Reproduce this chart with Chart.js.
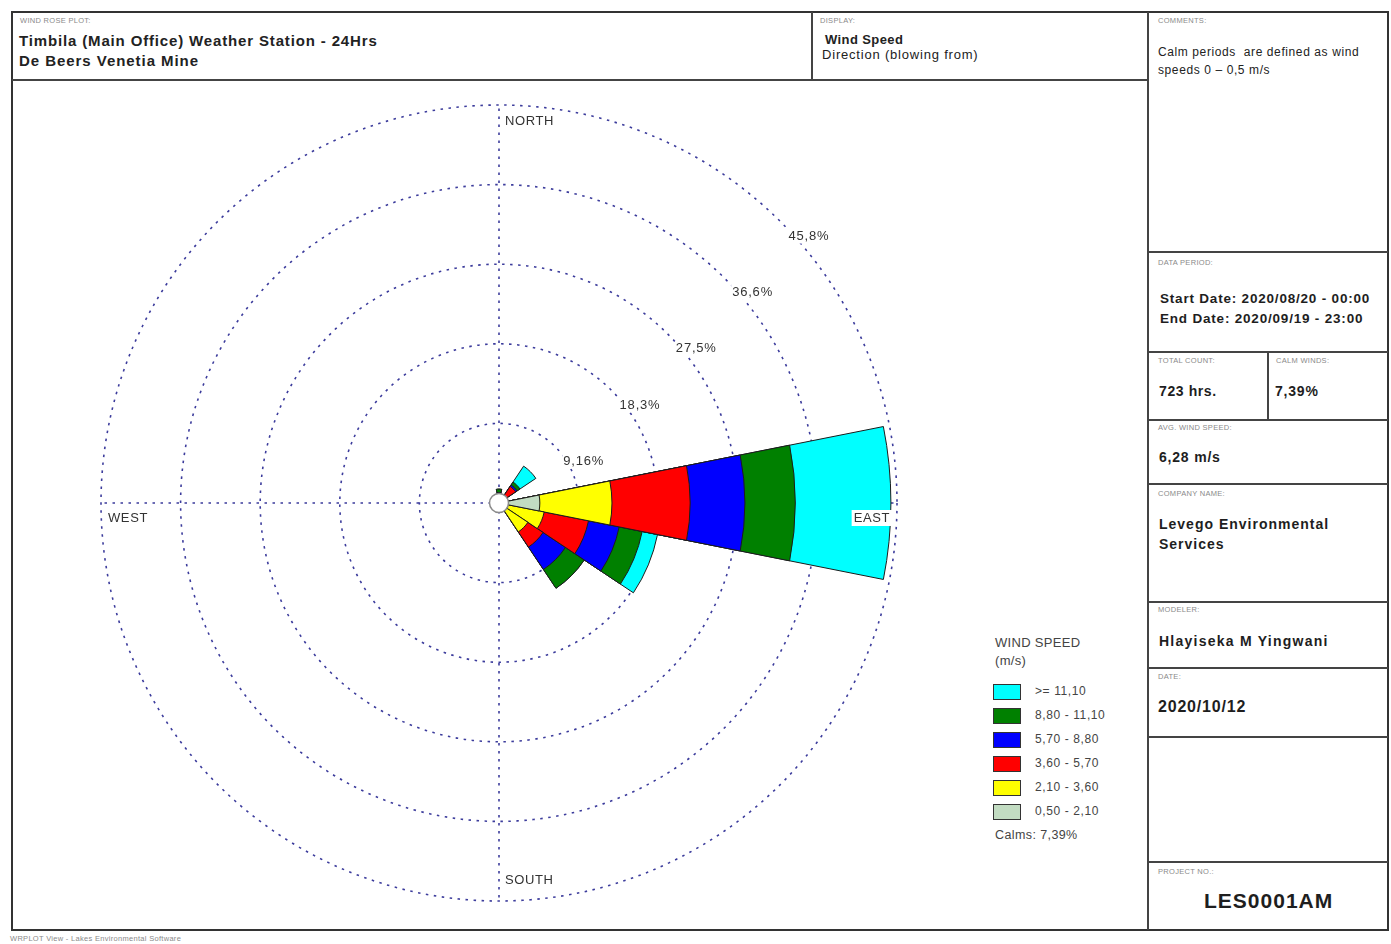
<!DOCTYPE html>
<html>
<head>
<meta charset="utf-8">
<script src="https://cdn.jsdelivr.net/npm/chart.js@4/dist/chart.umd.min.js"></script>
<style>
  html, body { margin: 0; padding: 0; background: #fff; }
  body { width: 1391px; height: 944px; position: relative; overflow: hidden;
         font-family: "Liberation Sans", Arial, sans-serif; color: #222; }
  .frame { position: absolute; border: 2px solid #333; box-sizing: border-box; }
  .hl { position: absolute; height: 0; border-top: 2px solid #444; }
  .vl { position: absolute; width: 0; border-left: 2px solid #444; }
  .cap { position: absolute; font-size: 7.5px; color: #8a8a8a; letter-spacing: 0.3px; white-space: nowrap; }
  .txt { position: absolute; white-space: nowrap; }
  .b { font-weight: bold; }
  .val { position: absolute; white-space: nowrap; font-weight: bold; font-size: 14px; letter-spacing: 0.9px; color: #1e1e1e; }
  #chartBox { position: absolute; left: 89px; top: 93px; width: 820px; height: 820px; }
  #legend { position: absolute; left: 993px; top: 636px; font-size: 12px; color: #444; letter-spacing: 0.6px; }
  #legend .row { position: absolute; left: 0; height: 16px; }
  #legend .sw { position: absolute; left: 0; top: 0; width: 26px; height: 14px; border: 1px solid #333; }
  #legend .lb { position: absolute; left: 42px; top: 0px; white-space: nowrap; }
</style>
</head>
<body>

<!-- page frame and panel rules -->
<div class="frame" style="left:11px;top:11px;width:1378px;height:920px;"></div>
<div class="hl" style="left:12px;top:79px;width:1136px;"></div>
<div class="vl" style="left:811px;top:12px;height:68px;"></div>
<div class="vl" style="left:1147px;top:12px;height:918px;"></div>
<div class="hl" style="left:1148px;top:251px;width:240px;"></div>
<div class="hl" style="left:1148px;top:351px;width:240px;"></div>
<div class="vl" style="left:1267px;top:352px;height:68px;"></div>
<div class="hl" style="left:1148px;top:419px;width:240px;"></div>
<div class="hl" style="left:1148px;top:483px;width:240px;"></div>
<div class="hl" style="left:1148px;top:601px;width:240px;"></div>
<div class="hl" style="left:1148px;top:667px;width:240px;"></div>
<div class="hl" style="left:1148px;top:736px;width:240px;"></div>
<div class="hl" style="left:1148px;top:861px;width:240px;"></div>

<!-- header -->
<div class="cap" style="left:20px;top:16px;">WIND ROSE PLOT:</div>
<div class="txt b" style="left:19px;top:32px;font-size:15px;letter-spacing:0.85px;">Timbila (Main Office) Weather Station - 24Hrs</div>
<div class="txt b" style="left:19px;top:52px;font-size:15px;letter-spacing:0.95px;">De Beers Venetia Mine</div>

<div class="cap" style="left:820px;top:16px;">DISPLAY:</div>
<div class="txt" style="left:825px;top:32px;font-size:13px;font-weight:600;letter-spacing:0.4px;">Wind Speed</div>
<div class="txt" style="left:822px;top:47px;font-size:13px;letter-spacing:0.8px;">Direction (blowing from)</div>

<!-- side panel -->
<div class="cap" style="left:1158px;top:16px;">COMMENTS:</div>
<div class="txt" style="left:1158px;top:45px;font-size:12px;letter-spacing:0.6px;">Calm periods&nbsp; are defined as wind</div>
<div class="txt" style="left:1158px;top:63px;font-size:12px;letter-spacing:0.6px;">speeds 0 – 0,5 m/s</div>

<div class="cap" style="left:1158px;top:258px;">DATA PERIOD:</div>
<div class="val" style="left:1160px;top:291px;font-size:13.5px;letter-spacing:0.8px;">Start Date: 2020/08/20 - 00:00</div>
<div class="val" style="left:1160px;top:311px;font-size:13.5px;letter-spacing:0.8px;">End Date: 2020/09/19 - 23:00</div>

<div class="cap" style="left:1158px;top:356px;">TOTAL COUNT:</div>
<div class="val" style="left:1159px;top:383px;letter-spacing:0.6px;">723 hrs.</div>
<div class="cap" style="left:1276px;top:356px;">CALM WINDS:</div>
<div class="val" style="left:1275px;top:383px;letter-spacing:0.8px;">7,39%</div>

<div class="cap" style="left:1158px;top:423px;">AVG. WIND SPEED:</div>
<div class="val" style="left:1159px;top:449px;letter-spacing:0.8px;">6,28 m/s</div>

<div class="cap" style="left:1158px;top:489px;">COMPANY NAME:</div>
<div class="val" style="left:1159px;top:516px;letter-spacing:1.0px;">Levego Environmental</div>
<div class="val" style="left:1159px;top:536px;letter-spacing:1.0px;">Services</div>

<div class="cap" style="left:1158px;top:605px;">MODELER:</div>
<div class="val" style="left:1159px;top:633px;letter-spacing:1.25px;">Hlayiseka M Yingwani</div>

<div class="cap" style="left:1158px;top:672px;">DATE:</div>
<div class="val" style="left:1158px;top:698px;font-size:16px;letter-spacing:0.8px;">2020/10/12</div>

<div class="cap" style="left:1158px;top:867px;">PROJECT NO.:</div>
<div class="val" style="left:1204px;top:889px;font-size:21px;letter-spacing:1.0px;">LES0001AM</div>

<div class="cap" style="left:10px;top:934px;">WRPLOT View - Lakes Environmental Software</div>

<!-- wind rose -->
<div id="chartBox"><canvas id="rose"></canvas></div>
<div id="legend"></div>

<script>
// 16 compass sectors, clockwise from north
const directions = ['N','NNE','NE','ENE','E','ESE','SE','SSE','S','SSW','SW','WSW','W','WNW','NW','NNW'];

// frequency (%) per sector for each wind speed class
const speed_050_210  = [0.2, 0, 0.2, 0, 4.7, 0.5, 0.3, 0, 0, 0, 0, 0, 0, 0, 0, 0];
const speed_210_360  = [0.3, 0, 0.5, 0, 8.3, 4.8, 3.7, 0, 0, 0, 0, 0, 0, 0, 0, 0];
const speed_360_570  = [0.3, 0, 1.6, 0, 9.0, 5.2, 2.1, 0, 0, 0, 0, 0, 0, 0, 0, 0];
const speed_570_880  = [0.4, 0, 0.2, 0, 6.3, 3.6, 3.1, 0, 0, 0, 0, 0, 0, 0, 0, 0];
const speed_880_1110 = [0.4, 0, 0.4, 0, 5.8, 2.7, 2.6, 0, 0, 0, 0, 0, 0, 0, 0, 0];
const speed_1110_up  = [0,   0, 2.2, 0, 11.0, 1.8, 0,  0, 0, 0, 0, 0, 0, 0, 0, 0];

const speedClasses = ['0,50 - 2,10', '2,10 - 3,60', '3,60 - 5,70', '5,70 - 8,80', '8,80 - 11,10', '>= 11,10'];
const speedColors  = ['#c2dcc2', '#ffff00', '#ff0000', '#0000ff', '#008000', '#00ffff'];

// frequency rings and their labels
const ringValues = [9.16, 18.32, 27.48, 36.64, 45.8];
const ringLabels = ['9,16%', '18,3%', '27,5%', '36,6%', '45,8%'];
const cardinalLabels = ['NORTH', 'EAST', 'SOUTH', 'WEST'];
const calmsText = 'Calms: 7,39%';

// stacked petals: each class is drawn out to the running total of the classes below it
const classSeries = [speed_050_210, speed_210_360, speed_360_570, speed_570_880, speed_880_1110, speed_1110_up];
const running = directions.map(() => 0);
const datasets = classSeries.map((series, k) => {
  const cum = series.map((v, i) => (running[i] += v, +running[i].toFixed(2)));
  return {
    label: speedClasses[k],
    data: cum,
    backgroundColor: speedColors[k],
    borderColor: '#1c1c1c',
    borderWidth: 1
  };
});

const gridColor = '#3c3c9c';
const gridDash = [2.5, 5.5];

const roseDecor = {
  id: 'roseDecor',
  beforeDatasetsDraw(chart) {
    const s = chart.scales.r, ctx = chart.ctx;
    const R = s.getDistanceFromCenterForValue(s.max);
    ctx.save();
    ctx.strokeStyle = gridColor;
    ctx.lineWidth = 1.6;
    ctx.setLineDash(gridDash);
    [[0, -1], [1, 0], [0, 1], [-1, 0]].forEach(([dx, dy]) => {
      ctx.beginPath();
      ctx.moveTo(s.xCenter, s.yCenter);
      ctx.lineTo(s.xCenter + dx * R, s.yCenter + dy * R);
      ctx.stroke();
    });
    ctx.restore();
  },
  afterDatasetsDraw(chart) {
    const s = chart.scales.r, ctx = chart.ctx;
    const xc = s.xCenter, yc = s.yCenter;
    const R = s.getDistanceFromCenterForValue(s.max);

    // calm circle
    ctx.save();
    ctx.setLineDash([]);
    ctx.beginPath();
    ctx.arc(xc, yc, 9.5, 0, Math.PI * 2);
    ctx.fillStyle = '#ffffff';
    ctx.fill();
    ctx.lineWidth = 1.5;
    ctx.strokeStyle = '#8a8a8a';
    ctx.stroke();

    // ring labels along the north-east diagonal
    ctx.font = '13px "Liberation Sans", Arial, sans-serif';
    ctx.letterSpacing = '0.8px';
    ctx.textAlign = 'left';
    ctx.textBaseline = 'top';
    ringValues.forEach((v, i) => {
      const d = s.getDistanceFromCenterForValue(v);
      const x = xc + d * Math.SQRT1_2 + 8;
      const y = yc - d * Math.SQRT1_2 + 8;
      const w = ctx.measureText(ringLabels[i]).width;
      ctx.fillStyle = '#fff';
      ctx.fillRect(x - 1, y - 1, w + 2, 15);
      ctx.fillStyle = '#333';
      ctx.fillText(ringLabels[i], x, y);
    });

    // compass labels just inside the outer ring
    ctx.letterSpacing = '0.6px';
    const put = (text, x, y, align) => {
      ctx.textAlign = align;
      ctx.textBaseline = 'middle';
      const w = ctx.measureText(text).width;
      const left = align === 'right' ? x - w : x;
      ctx.fillStyle = '#fff';
      ctx.fillRect(left - 2, y - 8, w + 4, 16);
      ctx.fillStyle = '#333';
      ctx.fillText(text, x, y);
    };
    put(cardinalLabels[0], xc + 6, yc - R + 16, 'left');
    put(cardinalLabels[1], xc + R - 7, yc + 15, 'right');
    put(cardinalLabels[2], xc + 6, yc + R - 21, 'left');
    put(cardinalLabels[3], xc - R + 7, yc + 15, 'left');
    ctx.restore();
  }
};

new Chart(document.getElementById('rose'), {
  type: 'polarArea',
  data: { labels: directions, datasets },
  options: {
    responsive: true,
    maintainAspectRatio: false,
    animation: false,
    layout: { padding: 12 },
    plugins: { legend: { display: false }, tooltip: { enabled: false } },
    scales: {
      r: {
        min: 0,
        max: 45.8,
        startAngle: -11.25,
        afterBuildTicks(scale) { scale.ticks = [0, ...ringValues].map(v => ({ value: v })); },
        ticks: { display: false },
        pointLabels: { display: false },
        angleLines: { display: false },
        grid: { circular: true, color: gridColor, lineWidth: 1.6 },
        border: { dash: gridDash }
      }
    }
  },
  plugins: [roseDecor]
});

// legend, strongest class first
const legend = document.getElementById('legend');
legend.innerHTML =
  '<div style="position:absolute;left:2px;top:-1px;font-size:13px;letter-spacing:0.3px;white-space:nowrap;">WIND SPEED</div>' +
  '<div style="position:absolute;left:2px;top:17px;font-size:13px;letter-spacing:0.3px;white-space:nowrap;">(m/s)</div>';
for (let k = speedClasses.length - 1, row = 0; k >= 0; k--, row++) {
  const div = document.createElement('div');
  div.className = 'row';
  div.style.top = (48 + row * 24) + 'px';
  div.innerHTML = '<div class="sw" style="background:' + speedColors[k] + '"></div>' +
                  '<div class="lb">' + speedClasses[k] + '</div>';
  legend.appendChild(div);
}
const calms = document.createElement('div');
calms.style.cssText = 'position:absolute;left:2px;top:192px;white-space:nowrap;font-size:12.5px;letter-spacing:0.4px;';
calms.textContent = calmsText;
legend.appendChild(calms);
</script>
</body>
</html>
